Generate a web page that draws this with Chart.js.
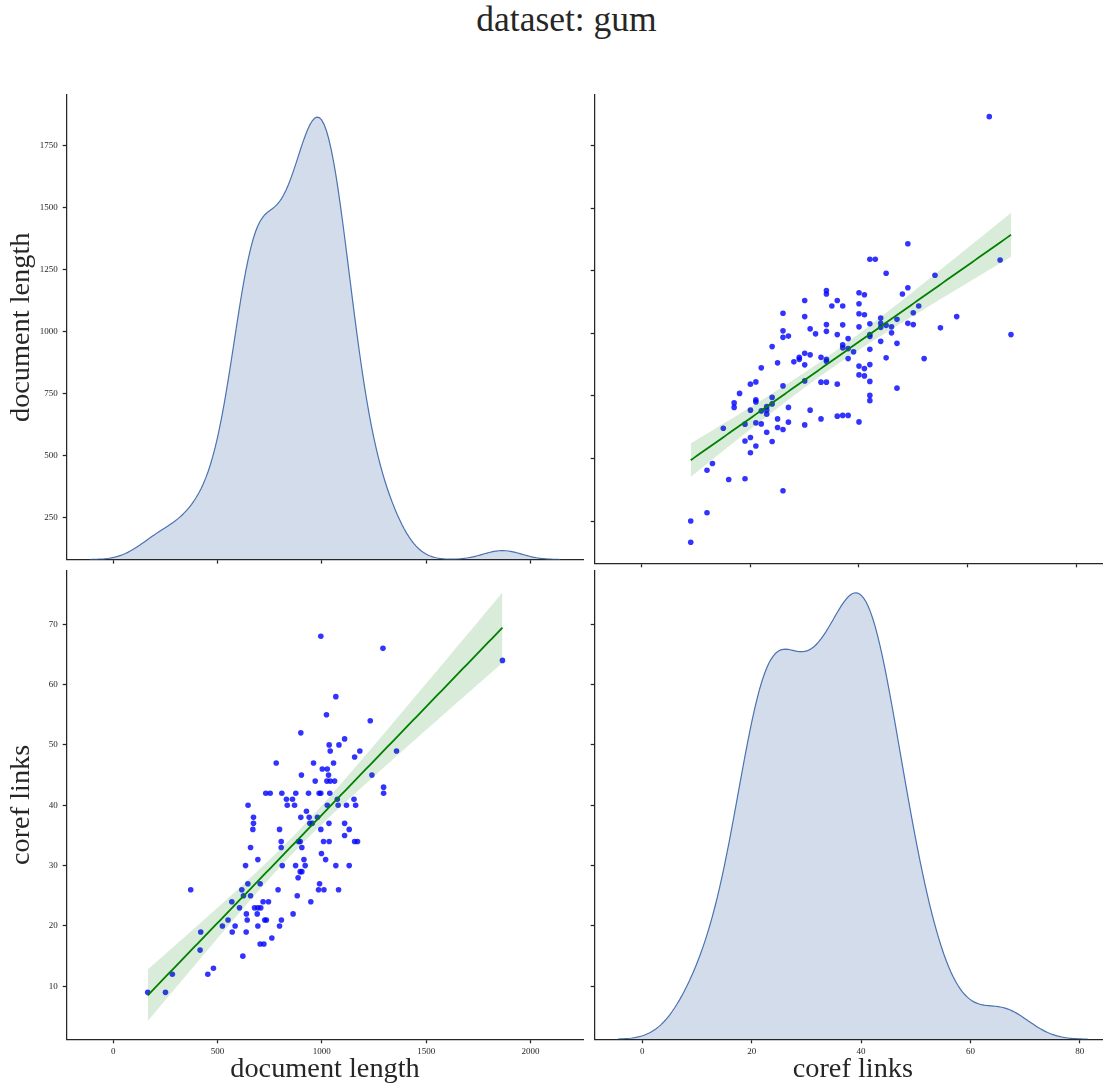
<!DOCTYPE html>
<html>
<head>
<meta charset="utf-8">
<script src="https://cdn.jsdelivr.net/npm/chart.js@4.4.1/dist/chart.umd.min.js"></script>
<style>
  html, body { margin: 0; padding: 0; width: 1103px; height: 1090px; overflow: hidden; background: #ffffff; }
  .panel { position: absolute; }
  #figtitle {
    position: absolute; left: 0; top: 2px; width: 1133px; text-align: center;
    font-family: 'Liberation Serif', serif; font-size: 35.5px; line-height: 1; color: #262626;
  }
</style>
</head>
<body>
<div id="figtitle">dataset: gum</div>
<canvas id="tl" class="panel" width="590" height="490" style="left:0;top:80px"></canvas>
<canvas id="tr" class="panel" width="551" height="490" style="left:560px;top:80px"></canvas>
<canvas id="bl" class="panel" width="590" height="530" style="left:0;top:560px"></canvas>
<canvas id="br" class="panel" width="551" height="530" style="left:560px;top:560px"></canvas>
<script>
// One row per document: length in tokens and number of coreference links.
const documentLength = [
  165, 250, 283, 453, 480, 621, 416, 704, 722, 760,
  419, 570, 637, 523, 584, 693, 797, 550, 642, 726,
  734, 806, 638, 690, 862, 605, 677, 693, 707, 568,
  718, 744, 947, 624, 658, 882, 371, 616, 790, 984,
  1010, 1080, 645, 704, 989, 886, 896, 904, 634, 810,
  874, 920, 1067, 1131, 693, 914, 1018, 998, 658, 805,
  904, 805, 888, 896, 1008, 1035, 1157, 1171, 1109, 669,
  797, 995, 1131, 672, 942, 954, 1034, 1109, 672, 899,
  939, 979, 926, 646, 834, 869, 1026, 1078, 1118, 1162,
  830, 859, 1074, 1154, 731, 752, 808, 875, 936, 987,
  995, 1038, 1296, 1296, 968, 1024, 1040, 1061, 902, 1032,
  1240, 1002, 1026, 781, 960, 1056, 1157, 1040, 1182, 1358,
  1035, 1082, 1109, 899, 1232, 1022, 1067, 1866, 1293, 995
];
const corefLinks = [
  9, 9, 12, 12, 13, 15, 16, 17, 17, 18,
  19, 19, 19, 20, 20, 20, 20, 21, 21, 21,
  21, 21, 22, 22, 22, 23, 23, 23, 23, 24,
  24, 24, 24, 25, 25, 25, 26, 26, 26, 26,
  26, 26, 27, 27, 27, 28, 29, 29, 30, 30,
  30, 30, 30, 30, 31, 31, 31, 32, 33, 33,
  33, 34, 34, 34, 34, 34, 34, 34, 35, 36,
  36, 36, 36, 37, 37, 37, 37, 37, 38, 38,
  38, 38, 39, 40, 40, 40, 40, 40, 40, 40,
  41, 41, 41, 41, 42, 42, 42, 42, 42, 42,
  42, 42, 42, 43, 44, 44, 44, 44, 45, 45,
  45, 46, 46, 47, 47, 47, 48, 49, 49, 49,
  50, 50, 51, 52, 54, 55, 58, 64, 66, 68
];

// Tick positions
const lengthTicksX = [0, 500, 1000, 1500, 2000];
const lengthTicksY = [250, 500, 750, 1000, 1250, 1500, 1750];
const corefTicksX = [0, 20, 40, 60, 80];
const corefTicksY = [10, 20, 30, 40, 50, 60, 70];

// Axis limits
const LEN_X = [-223.7, 2253.7];
const LEN_Y = [81, 1952.5];
const COREF_X = [-8.69, 85.69];
const COREF_Y = [1.22, 78.9];

const INK = '#262626';
const KDE_LINE = '#4c72b0';
const KDE_FILL = 'rgba(76,114,176,0.25)';
const DOT = 'rgba(0,0,255,0.8)';
const FIT = '#008000';
const BAND = 'rgba(0,128,0,0.15)';

Chart.defaults.font.family = "'Liberation Serif', serif";
Chart.defaults.color = INK;

// Gaussian kernel density estimate, Scott's rule bandwidth, support cut at 3 bandwidths.
function kde(values, gridsize = 200, cut = 3) {
  const n = values.length;
  const mean = values.reduce((a, b) => a + b, 0) / n;
  const sd = Math.sqrt(values.reduce((a, v) => a + (v - mean) ** 2, 0) / (n - 1));
  const bw = sd * Math.pow(n, -1 / 5);
  const lo = Math.min(...values) - cut * bw;
  const hi = Math.max(...values) + cut * bw;
  const norm = 1 / (n * bw * Math.sqrt(2 * Math.PI));
  const pts = [];
  for (let i = 0; i < gridsize; i++) {
    const x = lo + (hi - lo) * i / (gridsize - 1);
    let s = 0;
    for (const v of values) { const z = (x - v) / bw; s += Math.exp(-0.5 * z * z); }
    pts.push({ x, y: s * norm });
  }
  return pts;
}

// Least-squares fit with a 95% confidence band for the mean response.
function regression(xs, ys, steps = 100) {
  const n = xs.length;
  const mx = xs.reduce((a, b) => a + b, 0) / n;
  const my = ys.reduce((a, b) => a + b, 0) / n;
  let sxx = 0, sxy = 0;
  for (let i = 0; i < n; i++) { sxx += (xs[i] - mx) ** 2; sxy += (xs[i] - mx) * (ys[i] - my); }
  const b = sxy / sxx, a = my - b * mx;
  let sse = 0;
  for (let i = 0; i < n; i++) sse += (ys[i] - a - b * xs[i]) ** 2;
  const s = Math.sqrt(sse / (n - 2));
  const t = 1.979;
  const lo = Math.min(...xs), hi = Math.max(...xs);
  const line = [], upper = [], lower = [];
  for (let i = 0; i < steps; i++) {
    const x = lo + (hi - lo) * i / (steps - 1);
    const yhat = a + b * x;
    const half = t * s * Math.sqrt(1 / n + (x - mx) ** 2 / sxx);
    line.push({ x, y: yhat });
    upper.push({ x, y: yhat + half });
    lower.push({ x, y: yhat - half });
  }
  return { line, upper, lower };
}

function axis({ range, ticks, labels, title, size, vertical, titlePad }) {
  return {
    type: 'linear',
    position: vertical ? 'left' : 'bottom',
    min: range[0], max: range[1],
    afterBuildTicks: s => { s.ticks = ticks.map(v => ({ value: v })); },
    afterFit: s => { if (vertical) s.width = size; else s.height = size; },
    ticks: {
      display: labels, autoSkip: false, maxRotation: 0, minRotation: 0,
      padding: vertical ? 5 : 3,
      font: { size: 9 }, color: INK,
      callback: v => String(v)
    },
    grid: { display: true, drawOnChartArea: false, drawTicks: true, tickLength: 4, tickColor: INK, tickWidth: 1.25 },
    border: { display: true, color: INK, width: 1.25 },
    title: title ? {
      display: true, text: title, color: INK,
      font: { size: 28.3, lineHeight: 1.2 },
      padding: vertical ? { top: titlePad, bottom: 0 } : { top: 0, bottom: titlePad }
    } : { display: false }
  };
}

const baseOptions = (padding) => ({
  responsive: false, animation: false,
  layout: { padding },
  plugins: { legend: { display: false }, tooltip: { enabled: false } }
});

function kdePanel(id, values, xAxis, yAxis, padding) {
  const curve = kde(values);
  const peak = Math.max(...curve.map(p => p.y));
  new Chart(document.getElementById(id), {
    type: 'scatter',
    data: { datasets: [{
      data: curve, yAxisID: 'yd', showLine: true, pointRadius: 0,
      borderColor: KDE_LINE, borderWidth: 1.2, backgroundColor: KDE_FILL, fill: 'origin', tension: 0
    }] },
    options: Object.assign(baseOptions(padding), {
      scales: { x: xAxis, y: yAxis, yd: { type: 'linear', display: false, min: 0, max: peak * 1.05 } }
    })
  });
}

function regPanel(id, xs, ys, xAxis, yAxis, padding) {
  const fit = regression(xs, ys);
  const pts = xs.map((x, i) => ({ x, y: ys[i] }));
  new Chart(document.getElementById(id), {
    type: 'scatter',
    data: { datasets: [
      { data: pts, order: 3, pointRadius: 2.8, pointBackgroundColor: DOT, pointBorderWidth: 0, showLine: false },
      { data: fit.lower, order: 2, showLine: true, pointRadius: 0, borderWidth: 0, borderColor: 'rgba(0,0,0,0)', fill: false },
      { data: fit.upper, order: 2, showLine: true, pointRadius: 0, borderWidth: 0, borderColor: 'rgba(0,0,0,0)', backgroundColor: BAND, fill: '-1' },
      { data: fit.line, order: 1, showLine: true, pointRadius: 0, borderColor: FIT, borderWidth: 1.8, fill: false }
    ] },
    options: Object.assign(baseOptions(padding), { scales: { x: xAxis, y: yAxis } })
  });
}

// top left: distribution of document length
kdePanel('tl', documentLength,
  axis({ range: LEN_X, ticks: lengthTicksX, labels: false, size: 6.7 }),
  axis({ range: LEN_Y, ticks: lengthTicksY, labels: true, title: 'document length', size: 66.7, vertical: true, titlePad: 4.5 }),
  { left: 0, top: 15, right: 6.7, bottom: 0 });

// top right: document length against coref links
regPanel('tr', corefLinks, documentLength,
  axis({ range: COREF_X, ticks: corefTicksX, labels: false, size: 6.7 }),
  axis({ range: LEN_Y, ticks: lengthTicksY, labels: false, size: 34.7, vertical: true }),
  { left: 0, top: 15, right: 0, bottom: 0 });

// bottom left: coref links against document length
regPanel('bl', documentLength, corefLinks,
  axis({ range: LEN_X, ticks: lengthTicksX, labels: true, title: 'document length', size: 50.7, titlePad: 3.5 }),
  axis({ range: COREF_Y, ticks: corefTicksY, labels: true, title: 'coref links', size: 66.7, vertical: true, titlePad: 4.5 }),
  { left: 0, top: 10.5, right: 6.7, bottom: 0 });

// bottom right: distribution of coref links
kdePanel('br', corefLinks,
  axis({ range: COREF_X, ticks: corefTicksX, labels: true, title: 'coref links', size: 50.7, titlePad: 3.5 }),
  axis({ range: COREF_Y, ticks: corefTicksY, labels: false, size: 34.7, vertical: true }),
  { left: 0, top: 10.5, right: 0, bottom: 0 });
</script>
</body>
</html>
